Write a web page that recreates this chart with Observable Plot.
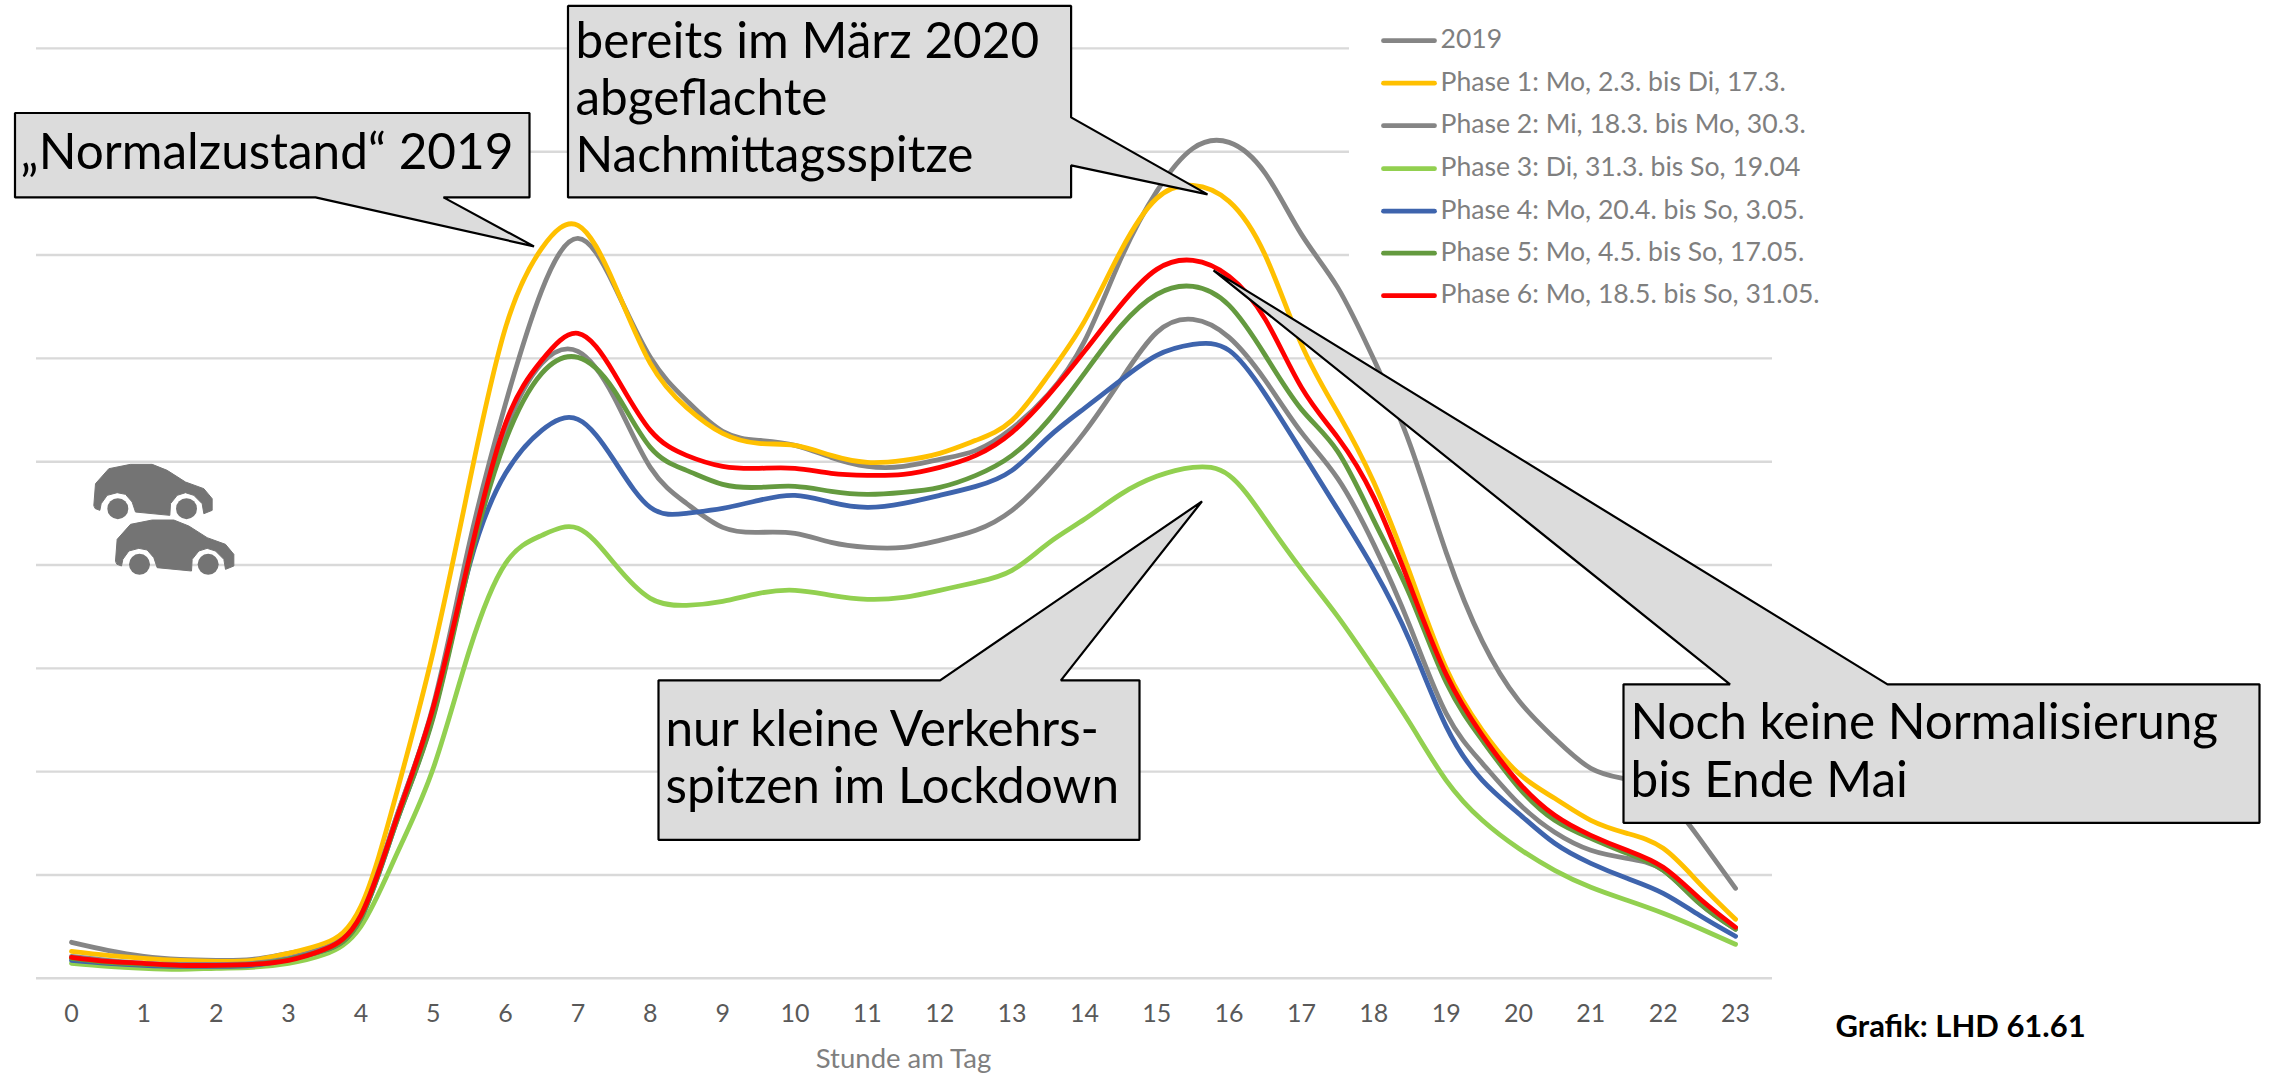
<!DOCTYPE html>
<html lang="de">
<head>
<meta charset="utf-8">
<title>Verkehr nach Stunde am Tag</title>
<script src="https://cdn.jsdelivr.net/npm/d3@7"></script>
<script src="https://cdn.jsdelivr.net/npm/@observablehq/plot@0.6"></script>
<style>
html,body{margin:0;padding:0;background:#fff}
svg{display:block}
</style>
</head>
<body>
<div id="chart"></div>
<script>
const hourTicks = d3.range(0, 24);
const halfHours = d3.range(0, 23.5, 0.5);
const gridLevels = d3.range(0, 10).map(i => i * 930 / 9);

const values2019 = [36,28,22,19,18,19,25,32,63,163,273,435,575,688,740,693,621,578,547,538,533,521,512,512,519,528,550,584,637,719,787,830,836,805,744,691,619,534,426,337,278,240,210,199,183,140,90];
const phase1 = [27,23,20,18,17,18,25,35,72,187,327,496,651,730,753,695,615,571,545,535,533,523,516,518,525,538,558,603,657,727,780,793,777,723,634,566,496,405,310,248,205,180,158,145,130,95,59];
const phase2 = [22,18,15,14,14,15,20,30,63,163,270,420,548,615,627,581,511,475,451,446,445,436,431,431,438,448,468,503,546,598,646,659,641,598,546,500,434,352,265,215,175,146,128,120,108,75,49];
const phase3 = [15,12,10,9,10,11,15,24,52,125,210,328,415,443,450,415,380,373,377,385,388,383,379,381,388,396,408,435,459,484,502,511,503,459,409,362,310,255,198,158,130,108,91,78,65,50,34];
const phase4 = [18,15,13,12,12,13,19,28,60,158,263,413,505,548,559,518,471,465,470,478,483,476,471,475,483,492,508,541,570,598,623,634,628,584,527,469,409,337,252,198,165,135,115,100,85,63,42];
const phase5 = [20,16,14,13,13,14,19,28,60,158,261,415,538,605,621,588,531,508,494,491,492,487,484,486,491,503,523,558,605,652,684,692,673,623,569,527,458,383,296,238,191,158,140,125,108,75,49];
const phase6 = [21,17,15,13,13,14,18,29,63,161,271,421,555,618,645,605,548,523,512,510,510,505,503,504,511,523,546,583,627,673,709,718,702,659,591,541,481,393,304,243,196,163,143,128,111,80,51];

const seriesNames = ["2019","Phase 1: Mo, 2.3. bis Di, 17.3.","Phase 2: Mi, 18.3. bis Mo, 30.3.","Phase 3: Di, 31.3. bis So, 19.04","Phase 4: Mo, 20.4. bis So, 3.05.","Phase 5: Mo, 4.5. bis So, 17.05.","Phase 6: Mo, 18.5. bis So, 31.05."];
const seriesValues = [values2019, phase1, phase2, phase3, phase4, phase5, phase6];
const seriesColors = ["#858585","#ffc000","#858585","#92d050","#3e64ad","#649a3f","#ff0000"];

// page pixels to data units (annotations only)
const H = px => (px - 71) / 72.35;
const V = py => 978 - py;
const toData = poly => poly.map(([px, py]) => ({x: H(px), y: V(py)}));

const calloutShapes = [
  [[14.5,112.6],[529,112.6],[529,197],[443,197],[533.5,246],[315,197],[14.5,197]],
  [[567.5,5.5],[1070.6,5.5],[1070.6,117],[1207,194],[1070.6,165],[1070.6,197],[567.5,197]],
  [[658,680],[939.6,680],[1201.5,501],[1060.4,680],[1139,680],[1139,839.5],[658,839.5]],
  [[1623,684],[1729.5,684],[1213,270],[1887,684],[2259,684],[2259,822.5],[1623,822.5]]
];
const calloutText = [
  {t:"„Normalzustand“ 2019", px:20, py:169},
  {t:"bereits im März 2020", px:575, py:58},
  {t:"abgeflachte", px:575, py:115},
  {t:"Nachmittagsspitze", px:575, py:172},
  {t:"nur kleine Verkehrs-", px:665, py:746},
  {t:"spitzen im Lockdown", px:665, py:803},
  {t:"Noch keine Normalisierung", px:1630, py:739},
  {t:"bis Ende Mai", px:1630, py:797}
];
const legendRows = [39.5, 82, 124.5, 167.5, 210, 252, 294.5];

const carBody = [[100,195],[105,130],[145,85],[210,72],[275,72],[320,90],[375,125],[430,145],[455,175],[455,210],[430,220],[425,190],[400,165],[375,157],[350,165],[330,190],[328,225],[225,215],[215,185],[195,162],[170,157],[140,165],[122,190],[118,210],[105,205]];
const carWheels = [[172,205],[378,205]];
const carOffsets = [[0,0],[65,167]];
const carPx = ([X, Y], [dx, dy]) => [60 + (X + dx) / 3, 440 + (Y + dy) / 3];

const font = "Lato, 'Open Sans', sans-serif";
const marks = [];

// gridlines; upper three stop at the legend's white area
marks.push(Plot.ruleY(gridLevels.slice(0, 7), {x1: H(36), x2: H(1772), stroke: "#d9d9d9", strokeWidth: 2.4}));
marks.push(Plot.ruleY(gridLevels.slice(7), {x1: H(36), x2: H(1349), stroke: "#d9d9d9", strokeWidth: 2.4}));

// axis
marks.push(Plot.axisX({ticks: hourTicks, tickSize: 0, tickPadding: 26, fontSize: 25, fill: "#595959", label: null, tickFormat: d => String(d), anchor: "bottom"}));
marks.push(Plot.text(["Stunde am Tag"], {x: H(903), y: V(1059), text: d => d, fontSize: 27.5, fill: "#7f7f7f"}));
marks.push(Plot.text(["Grafik: LHD 61.61"], {x: H(1835), y: V(1037), text: d => d, textAnchor: "start", lineAnchor: "bottom", fontSize: 31, fontWeight: 700, fill: "#000"}));

// cars
for (const off of carOffsets) {
  marks.push(Plot.line(toData(carBody.map(p => carPx(p, off))), {x: "x", y: "y", curve: "linear-closed", fill: "#747474", stroke: "#747474", strokeWidth: 1}));
  marks.push(Plot.dot(toData(carWheels.map(p => carPx(p, off))), {x: "x", y: "y", r: 10.5, fill: "#747474"}));
}

// series
seriesValues.forEach((vals, i) => {
  marks.push(Plot.line(halfHours.map((h, k) => ({h, v: vals[k]})), {x: "h", y: "v", curve: "natural", stroke: seriesColors[i], strokeWidth: 4.8, strokeLinecap: "round"}));
});

// legend
seriesNames.forEach((name, i) => {
  marks.push(Plot.line([{x: H(1383), y: V(legendRows[i] + 0.8)}, {x: H(1434), y: V(legendRows[i] + 0.8)}], {x: "x", y: "y", stroke: seriesColors[i], strokeWidth: 4.8, strokeLinecap: "round"}));
  marks.push(Plot.text([name], {x: H(1440), y: V(legendRows[i]), text: d => d, textAnchor: "start", fontSize: 26.6, fill: "#7f7f7f"}));
});

// callouts
for (const shape of calloutShapes) {
  marks.push(Plot.line(toData(shape), {x: "x", y: "y", curve: "linear-closed", fill: "#dcdcdc", stroke: "#000", strokeWidth: 2.2, strokeLinejoin: "miter"}));
}
marks.push(Plot.text(calloutText, {x: d => H(d.px), y: d => V(d.py), text: "t", textAnchor: "start", lineAnchor: "bottom", fontSize: 49.5, fill: "#000"}));

const chart = Plot.plot({
  width: 2269,
  height: 1073,
  marginTop: 47.9,
  marginBottom: 95.2,
  marginLeft: 36,
  marginRight: 497,
  style: {fontFamily: font, background: "#fff", maxWidth: "none"},
  x: {domain: [H(36), H(1772)], axis: null},
  y: {domain: [0, 930], axis: null},
  marks
});
document.getElementById("chart").append(chart);
</script>
</body>
</html>
